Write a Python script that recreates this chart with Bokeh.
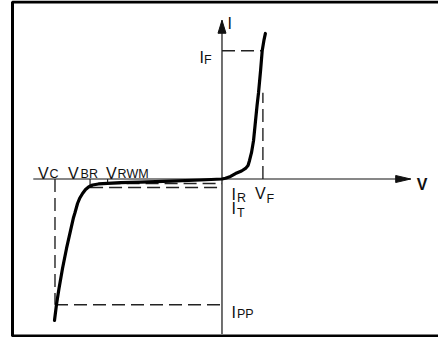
from bokeh.plotting import figure
from bokeh.models import Range1d, BoxAnnotation, ColumnDataSource
from bokeh.core.properties import value
from bokeh.embed import file_html
from bokeh.resources import INLINE

# ---- data (V in volts, I in arbitrary units) ----
V_C = -10.0
V_BR = -7.9
V_RWM = -6.85
V_F = 2.45
I_F = 10.1
I_PP = -9.9
I_R = -0.35
I_T = -0.67
I_VF_MARK = 6.8          # top of the V_F guide
V_AXIS = [-11.3, 11.3]   # extent of V axis
I_AXIS = [-12.2, 12.5]   # extent of I axis

# forward branch
fwd_v = [0, 0.21, 0.51, 0.81, 1.17, 1.41, 1.56, 1.65, 1.77, 1.89, 1.98, 2.10, 2.19, 2.31, 2.41, 2.51, 2.60]
fwd_i = [0, 0.06, 0.20, 0.43, 0.63, 0.83, 1.06, 1.46, 2.09, 3.03, 4.21, 5.79, 6.81, 8.54, 10.12, 10.91, 11.46]
# reverse branch
rev_v = [0, -1.29, -3.08, -4.88, -6.08, -6.86, -7.40, -7.75, -7.99, -8.17, -8.35, -8.53, -8.65,
         -8.80, -8.89, -9.07, -9.31, -9.55, -9.76, -9.91, -10.03]
rev_i = [0, -0.08, -0.16, -0.24, -0.29, -0.34, -0.39, -0.47, -0.63, -0.83, -1.14, -1.54, -1.93,
         -2.64, -3.03, -4.06, -5.47, -7.05, -8.62, -9.88, -11.14]

# ---- figure ----
W, H = 438, 337
x0, x1 = -13.263, 12.965
y0, y1 = -12.480, 14.055
sx = W / (x1 - x0)
sy = H / (y1 - y0)

p = figure(width=W, height=H, x_range=Range1d(x0, x1), y_range=Range1d(y0, y1),
           output_backend="svg", toolbar_location=None,
           x_axis_location=None, y_axis_location=None,
           min_border=0, outline_line_color=None)
p.xgrid.visible = False
p.ygrid.visible = False
p.background_fill_color = "white"

# frame border
p.add_layout(BoxAnnotation(left=x0 + 12.0 / sx, right=x1 + 2.0, top=y1 - 1.5 / sy,
                           bottom=y1 - 335.5 / sy, fill_alpha=0,
                           line_color="black", line_width=3, line_alpha=1))

INK = "#111111"

# axes
p.line(V_AXIS, [0, 0], line_color=INK, line_width=1.2)
p.line([0, 0], I_AXIS, line_color=INK, line_width=1.2)
# arrow heads
hv_len, hv_w = 15 / sx, 3.5 / sy
hi_len, hi_w = 13 / sy, 4 / sx
p.patches([[V_AXIS[1], V_AXIS[1] - hv_len, V_AXIS[1] - hv_len],
           [0, -hi_w, hi_w]],
          [[0, hv_w, -hv_w],
           [I_AXIS[1], I_AXIS[1] - hi_len, I_AXIS[1] - hi_len]],
          fill_color=INK, line_color=INK, line_width=1)

# dashed guides
dash_xs = [[0, V_F], [V_F, V_F], [V_C, V_C], [V_C, 0], [V_BR, 0], [V_RWM, 0]]
dash_ys = [[I_F, I_F], [0, I_VF_MARK], [0, I_PP], [I_PP, I_PP], [I_T, I_T], [I_R, I_R]]
p.multi_line(dash_xs, dash_ys, line_color="#222222", line_width=1.4, line_dash="13 6")
# short solid ticks
p.multi_line([[V_BR, V_BR], [V_RWM, V_RWM]], [[0, I_T], [0, I_R]],
             line_color="#222222", line_width=1.2)

# characteristic curve
curve_v = rev_v[::-1] + fwd_v[1:]
curve_i = rev_i[::-1] + fwd_i[1:]
p.line(curve_v, curve_i, line_color="black", line_width=3.2,
       line_join="round", line_cap="round")

# ---- labels ----
main = ColumnDataSource(dict(
    x=[V_C, V_BR, V_RWM, 0, 0, 0, V_F, 0, 0],
    y=[0, 0, 0, I_F, I_R, I_T, 0, I_PP, I_AXIS[1]],
    text=["V", "V", "V", "I", "I", "I", "V", "I", "I"],
    xo=[-17.0, -22.0, -1.5, -22.5, 9.5, 9.5, -8.0, 9.5, 5.5],
    yo=[-5.5, -5.5, -5.5, 6.8, 11.1, 21.0, 14.5, 7.8, 3.3],
))
sub = ColumnDataSource(dict(
    x=[V_C, V_BR, V_RWM, 0, 0, 0, V_F, 0],
    y=[0, 0, 0, I_F, I_R, I_T, 0, I_PP],
    text=["C", "BR", "RWM", "F", "R", "T", "F", "PP"],
    xo=[-5.5, -9.5, 10.0, -18.0, 15.0, 15.0, 3.5, 15.0],
    yo=[-5.5, -5.5, -5.5, 8.8, 14.1, 25.0, 19.5, 8.8],
))
FONT = value("Liberation Sans")
p.text(x="x", y="y", text="text", x_offset="xo", y_offset="yo", source=main,
       text_font=FONT, text_font_size="16px", text_color=INK,
       text_baseline="alphabetic", text_align="left")
p.text(x="x", y="y", text="text", x_offset="xo", y_offset="yo", source=sub,
       text_font=FONT, text_font_size="12.5px", text_color=INK,
       text_baseline="alphabetic", text_align="left")
p.text(x=[V_AXIS[1]], y=[0], text=["V"], x_offset=6.0, y_offset=5.5,
       text_font=FONT, text_font_size="16px", text_font_style="bold", text_color=INK,
       text_baseline="alphabetic", text_align="left")

open("out.html", "w").write(file_html(p, INLINE))
